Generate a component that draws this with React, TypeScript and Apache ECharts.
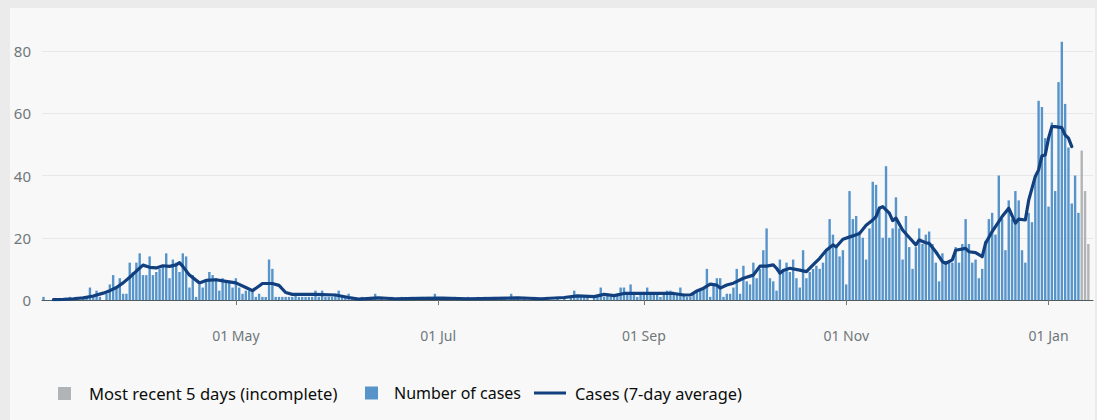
import { useEffect, useRef } from "react";
import * as echarts from "echarts";

// Day index 0 = 4 March 2020
const START_DATE = "2020-03-04";

// Daily cases, one array per month
const casesMar = [1, 0, 0, 0, 0, 0, 0, 0, 1, 0, 1, 0, 1, 1, 4, 1, 3, 1, 0, 2, 5, 8, 4, 7, 2, 2, 12, 9]; // 4-31 Mar
const casesApr = [12, 15, 8, 8, 14, 8, 9, 10, 11, 15, 7, 13, 12, 9, 15, 14, 4, 8, 1, 5, 4, 6, 9, 8, 7, 3, 7, 6, 6, 4];
const casesMay = [7, 4, 2, 3, 3, 3, 1, 2, 1, 1, 13, 10, 1, 1, 1, 1, 1, 1, 2, 1, 1, 1, 1, 1, 3, 1, 3, 1, 1, 1, 2];
const casesJun = [3, 1, 1, 2, 1, 0, 0, 1, 0, 0, 1, 2, 0, 1, 0, 0, 1, 0, 0, 1, 0, 0, 1, 0, 0, 1, 0, 1, 0, 2];
const casesJul = [1, 0, 1, 0, 0, 1, 0, 0, 0, 1, 0, 0, 1, 0, 1, 0, 0, 1, 0, 1, 1, 0, 2, 1, 1, 0, 1, 0, 0, 1, 0];
const casesAug = [0, 0, 1, 0, 0, 1, 0, 1, 0, 1, 3, 1, 1, 1, 1, 0, 1, 1, 4, 1, 2, 1, 1, 2, 4, 4, 2, 5, 2, 1, 2];
const casesSep = [2, 4, 2, 2, 2, 1, 2, 3, 3, 2, 2, 4, 2, 1, 1, 2, 3, 3, 4, 10, 1, 5, 7, 7, 1, 2, 2, 4, 10, 2];
const casesOct = [11, 6, 5, 12, 7, 10, 16, 23, 7, 6, 3, 13, 10, 12, 9, 13, 7, 4, 16, 7, 9, 10, 11, 10, 12, 16, 26, 21, 17, 14, 16];
const casesNov = [5, 35, 26, 27, 22, 20, 13, 23, 38, 37, 30, 20, 43, 20, 23, 33, 23, 13, 27, 17, 10, 17, 23, 18, 21, 22, 18, 12, 6, 15];
const casesDec = [12, 12, 12, 17, 12, 18, 26, 18, 12, 13, 7, 10, 19, 26, 28, 21, 40, 26, 16, 32, 26, 35, 32, 16, 12, 28, 25, 40, 64, 62, 52];
const casesJan = [30, 57, 35, 70, 83, 63, 49, 31, 40, 28]; // 1-10 Jan 2021
const casesIncomplete = [48, 35, 18]; // 11-13 Jan 2021

// 7-day average: day offset from 1 May 2020, and value
const avgDayFromMay1 = [
  -55, -52, -49, -46, -43, -40, -38, -36, -34, -32, -30, -28, -26, -24, -22, -20, -18, -17, -16, -14, -11, -9, -6, -3,
  0, 3, 5, 7, 8, 11, 13, 15, 17, 24, 30, 34, 37, 43, 48, 55, 62, 70, 78, 85, 92, 99, 103, 108, 111, 114, 117, 123, 129,
  132, 135, 137, 139, 141, 143, 145, 146, 148, 150, 153, 156, 158, 160, 162, 163, 164, 165, 167, 170, 172, 174, 176, 178,
  180, 181, 183, 186, 188, 190, 192, 193, 194, 195, 197, 198, 199, 201, 203, 205, 206, 208, 209, 211, 213, 214, 216, 217,
  220, 221, 223, 225, 226, 228, 229, 231, 233, 235, 236, 238, 239, 241, 242, 243, 244, 245, 246, 247, 249, 250, 251, 252,
];
const avgValues = [
  0.1, 0.2, 0.4, 0.7, 1.3, 2.2, 3.0, 4.0, 5.5, 7.3, 9.3, 11.2, 10.5, 10.3, 11.0, 10.8, 11.3, 12.0, 10.8, 8.0, 5.5, 6.3, 6.5, 6.0,
  5.5, 4.0, 3.0, 4.5, 5.3, 5.3, 4.7, 2.4, 1.8, 1.8, 1.6, 0.8, 0.3, 0.7, 0.4, 0.5, 0.6, 0.4, 0.5, 0.7, 0.4, 0.8, 1.3, 1.1, 1.8, 1.4, 2.1, 2.1, 2.1,
  2.1, 1.6, 1.6, 2.9, 3.8, 5.1, 4.8, 3.8, 4.8, 5.4, 7.0, 8.0, 10.9, 10.9, 11.3, 10.2, 8.6, 9.5, 10.2, 9.6, 9.1, 11.3, 13.4, 16.0,
  17.7, 17.1, 19.5, 20.6, 21.4, 24.0, 25.7, 26.8, 29.5, 30.0, 27.9, 25.5, 26.3, 22.5, 20.1, 17.7, 19.3, 18.4, 18.2, 15.5, 12.3, 11.8, 12.9, 16.0,
  16.6, 15.5, 15.2, 13.9, 18.2, 22.0, 23.6, 26.8, 29.5, 24.7, 26.0, 25.7, 32.0, 39.7, 41.8, 46.3, 46.6, 52.0, 55.7, 55.7, 55.4, 53.0, 52.0, 49.3,
];

const tickDates = ["2020-05-01", "2020-07-01", "2020-09-01", "2020-11-01", "2021-01-01"];
const tickLabels = ["01 May", "01 Jul", "01 Sep", "01 Nov", "01 Jan"];

const NAME_INCOMPLETE = "Most recent 5 days (incomplete)";
const NAME_CASES = "Number of cases";
const NAME_AVG = "Cases (7-day average)";

const FONT = '"Noto Sans", Arial, sans-serif';
const BLUE = "#5694ca";
const GREY = "#b1b4b6";
const NAVY = "#12407f";

const dayIndex = (iso: string) =>
  Math.round((Date.parse(iso + "T00:00:00Z") - Date.parse(START_DATE + "T00:00:00Z")) / 86400000);

export default function App() {
  const ref = useRef<HTMLDivElement>(null);

  useEffect(() => {
    if (!ref.current) return;
    const chart = echarts.init(ref.current, undefined, { renderer: "svg" });

    const complete = [
      ...casesMar, ...casesApr, ...casesMay, ...casesJun, ...casesJul, ...casesAug,
      ...casesSep, ...casesOct, ...casesNov, ...casesDec, ...casesJan,
    ];
    const completeData = complete.map((v, i) => [i, v]);
    const incompleteData = casesIncomplete.map((v, j) => [complete.length + j, v]);
    const may1 = dayIndex("2020-05-01");
    const avgData = avgDayFromMay1.map((d, k) => [d + may1, avgValues[k]]);
    const tickIdx = tickDates.map(dayIndex);

    const xMin = -0.45;
    const xMax = 316.4;
    const legendTop = 377;
    const legendText = { color: "#0b0c0c", fontSize: 16, fontFamily: FONT };

    chart.setOption({
      animation: false,
      textStyle: { fontFamily: FONT },
      grid: { left: 32, right: 2, top: 43, bottom: 120, containLabel: false },
      xAxis: [
        {
          type: "value",
          position: "bottom",
          min: xMin,
          max: xMax,
          offset: 16,
          axisLine: { show: false },
          axisTick: { show: true, customValues: tickIdx, length: 5, lineStyle: { color: "#6f777b" } },
          axisLabel: {
            customValues: tickIdx,
            formatter: (v: number) => tickLabels[tickIdx.indexOf(Math.round(v))] ?? "",
            color: "#6f777b",
            fontSize: 14,
            margin: 12,
          },
          splitLine: { show: false },
        },
        {
          type: "value",
          position: "bottom",
          offset: 0,
          min: xMin,
          max: xMax,
          axisLine: { show: true, onZero: false, lineStyle: { color: "#505a5f", width: 1 } },
          axisTick: { show: false },
          axisLabel: { show: false },
          splitLine: { show: false },
        },
      ],
      yAxis: {
        type: "value",
        min: 0,
        max: 80,
        interval: 20,
        axisLine: { show: false },
        axisTick: { show: false },
        axisLabel: { color: "#6f777b", fontSize: 15, margin: 11 },
        splitLine: { lineStyle: { color: "#e8e8e8", width: 1 } },
      },
      legend: [
        {
          data: [{ name: NAME_INCOMPLETE, icon: "rect" }],
          left: 48,
          top: legendTop,
          padding: 0,
          itemWidth: 13,
          itemHeight: 13,
          selectedMode: false,
          textStyle: { ...legendText, fontSize: 16.6, padding: [0, 0, 0, 13] },
        },
        {
          data: [{ name: NAME_CASES, icon: "rect" }],
          left: 355,
          top: legendTop,
          padding: 0,
          itemWidth: 13,
          itemHeight: 13,
          selectedMode: false,
          textStyle: { ...legendText, padding: [0, 0, 0, 11] },
        },
        {
          data: [{ name: NAME_AVG, icon: "rect" }],
          left: 524,
          top: legendTop,
          padding: 0,
          itemWidth: 32,
          itemHeight: 3,
          selectedMode: false,
          textStyle: { ...legendText, fontSize: 16.4, padding: [0, 0, 0, 4] },
        },
      ],
      series: [
        {
          name: NAME_INCOMPLETE,
          type: "bar",
          xAxisIndex: 0,
          data: incompleteData,
          barWidth: 2.4,
          barGap: "-100%",
          clip: false,
          itemStyle: { color: GREY },
        },
        {
          name: NAME_CASES,
          type: "bar",
          xAxisIndex: 0,
          data: completeData,
          barWidth: 2.4,
          barGap: "-100%",
          clip: false,
          itemStyle: { color: BLUE },
        },
        {
          name: NAME_AVG,
          type: "line",
          xAxisIndex: 0,
          data: avgData,
          symbol: "none",
          z: 5,
          itemStyle: { color: NAVY },
          lineStyle: { color: NAVY, width: 3.2, join: "round", cap: "round" },
        },
      ],
    });

    return () => chart.dispose();
  }, []);

  return (
    <div style={{ position: "fixed", left: 0, top: 0, width: 1097, height: 420, background: "#ebebeb" }}>
      <div
        ref={ref}
        style={{ position: "absolute", left: 10, top: 8, width: 1085, height: 412, background: "#f8f8f8" }}
      />
    </div>
  );
}
